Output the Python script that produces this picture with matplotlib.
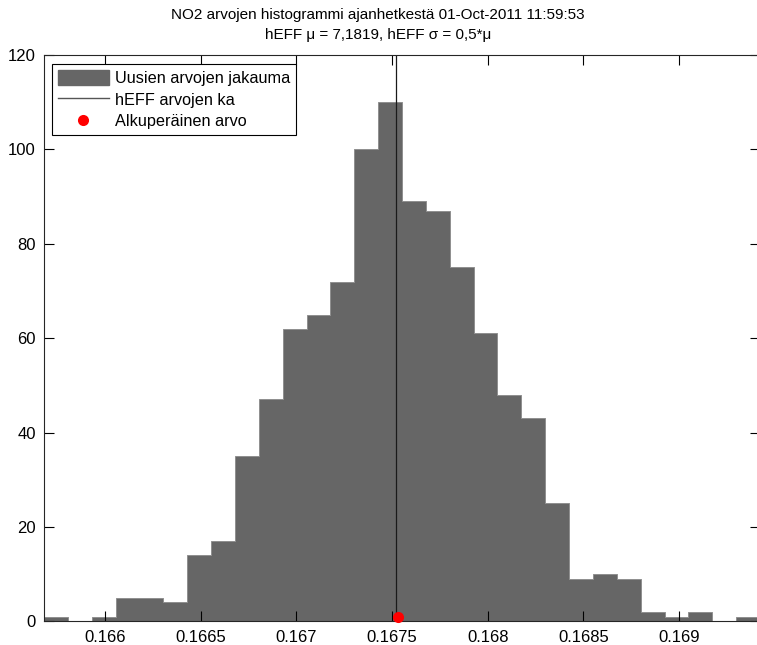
import numpy as np
import matplotlib
matplotlib.use("Agg")
import matplotlib.pyplot as plt
from matplotlib.patches import Patch
from matplotlib.lines import Line2D

# Histogram of the resampled NO2 values (30 equal-width bins over the data range)
range_min = 0.16568
range_max = 0.169424
bin_counts = [1, 0, 1, 5, 5, 4, 14, 17, 35, 47,
              62, 65, 72, 100, 110, 89, 87, 75, 61, 48,
              43, 25, 9, 10, 9, 2, 1, 2, 0, 1]

# Mean of the hEFF-based values and the original measurement
mean_value = 0.16752
original_value = 0.16753
original_y = 1

x_ticks = [0.166, 0.1665, 0.167, 0.1675, 0.168, 0.1685, 0.169]
x_tick_labels = ["0.166", "0.1665", "0.167", "0.1675", "0.168", "0.1685", "0.169"]
y_ticks = [0, 20, 40, 60, 80, 100, 120]

title_text = ("NO2 arvojen histogrammi ajanhetkestä 01-Oct-2011 11:59:53\n"
              "hEFF μ = 7,1819, hEFF σ = 0,5*μ")
legend_labels = ["Uusien arvojen jakauma", "hEFF arvojen ka", "Alkuperäinen arvo"]

plt.rcParams["font.family"] = ["Liberation Sans", "DejaVu Sans"]

W, H = 757, 645
fig = plt.figure(figsize=(W / 100, H / 100), dpi=100)
ax = fig.add_axes([44 / W, (H - 621.3) / H, 716 / W, 566.3 / H])

edges = np.linspace(range_min, range_max, len(bin_counts) + 1)
centers = 0.5 * (edges[:-1] + edges[1:])
ax.hist(centers, bins=edges, weights=bin_counts, histtype="stepfilled",
        facecolor="#666666", edgecolor="#8f8f8f", linewidth=0.7)

ax.plot([mean_value, mean_value], [0, 120], color="#1a1a1a", linewidth=0.9)
ax.plot([original_value], [original_y], "o", color="#ff0000",
        markersize=8, markeredgewidth=0, clip_on=False, zorder=5)

ax.set_xlim(range_min, range_max)
ax.set_ylim(0, 120)
ax.set_xticks(x_ticks)
ax.set_xticklabels(x_tick_labels)
ax.set_yticks(y_ticks)
ax.tick_params(direction="in", length=7, width=0.8, labelsize=12,
               top=True, right=True, pad=6, colors="#000000")
for s in ax.spines.values():
    s.set_linewidth(0.8)
    s.set_color("#262626")

fig.text(378 / W, 1 - 25 / H, title_text, ha="center", va="center",
         fontsize=11, linespacing=1.6)

handles = [
    Patch(facecolor="#666666", edgecolor="#666666"),
    Line2D([], [], color="#555555", linewidth=1.0),
    Line2D([], [], marker="o", linestyle="none", color="#ff0000",
           markersize=8, markeredgewidth=0),
]
leg = ax.legend(handles, legend_labels, loc="upper left",
                bbox_to_anchor=(52 / W, 1 - 64 / H), bbox_transform=fig.transFigure,
                fontsize=11.7, frameon=True, fancybox=False, shadow=False,
                borderaxespad=0, borderpad=0.38, handlelength=3.1,
                handleheight=1.0, handletextpad=0.4, labelspacing=0.35)
leg.get_frame().set_edgecolor("#000000")
leg.get_frame().set_linewidth(0.8)
leg.get_frame().set_alpha(1)

fig.savefig("out.png", dpi=100)
